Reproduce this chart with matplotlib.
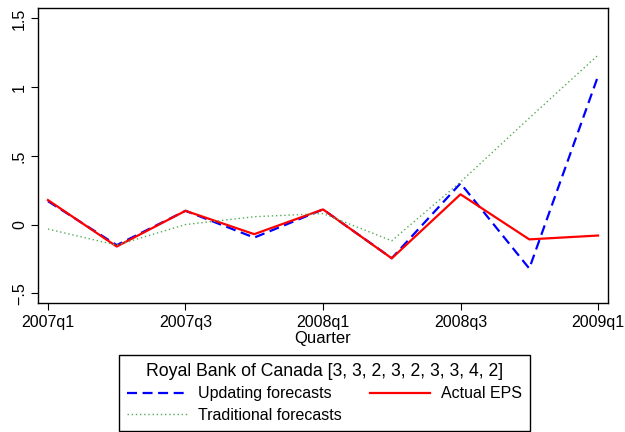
import numpy as np
import matplotlib
matplotlib.use('Agg')
import matplotlib.pyplot as plt

plt.rcParams['font.family'] = ['Liberation Sans', 'DejaVu Sans']

quarters = ['2007q1', '2007q2', '2007q3', '2007q4', '2008q1',
            '2008q2', '2008q3', '2008q4', '2009q1']
updating = [0.17, -0.15, 0.10, -0.095, 0.11, -0.245, 0.30, -0.32, 1.08]
actual = [0.178, -0.16, 0.10, -0.07, 0.11, -0.246, 0.22, -0.108, -0.08]
traditional = [-0.033, -0.15, 0.0, 0.057, 0.08, -0.118, 0.31, 0.775, 1.233]

yticks = [-0.5, 0, 0.5, 1, 1.5]
ytick_labels = ['\u2212.5', '0', '.5', '1', '1.5']
title = 'Royal Bank of Canada [3, 3, 2, 3, 2, 3, 3, 4, 2]'

fig = plt.figure(figsize=(6.25, 4.32), dpi=100)
ax = fig.add_axes([38/625, 1-303/432, 570/625, 295/432])

x = np.arange(len(quarters))
l_upd, = ax.plot(x, updating, color='#0000ff', lw=1.6, ls=(0, (4.5, 2.5)))
l_act, = ax.plot(x, actual, color='#ff0000', lw=1.6)
l_tra, = ax.plot(x, traditional, color='#55aa55', lw=1.0, ls=(0, (1, 2)))

ax.set_xlim(-0.145, 8.145)
ax.set_ylim(-0.571, 1.576)
ax.set_xticks(x[::2])
ax.set_xticklabels(quarters[::2], fontsize=11.5)
ax.set_yticks(yticks)
ax.set_yticklabels(ytick_labels, fontsize=11.5, rotation=90, va='center')
ax.tick_params(direction='out', length=5, width=0.8, pad=3)
ax.tick_params(axis='x', pad=4)
ax.set_xlabel('Quarter', fontsize=12, labelpad=0)
for s in ax.spines.values():
    s.set_linewidth(1.0)

leg = fig.legend([l_upd, l_tra, l_act],
                 ['Updating forecasts', 'Traditional forecasts', 'Actual EPS'],
                 ncol=2, title=title, title_fontsize=12.7, fontsize=11.5,
                 loc='upper left', bbox_to_anchor=(119/625, 1-355/432),
                 borderaxespad=0, fancybox=False, edgecolor='black',
                 framealpha=1, handlelength=3.75, handletextpad=0.69,
                 columnspacing=1.75, labelspacing=0.4, borderpad=0.5)
leg.get_frame().set_linewidth(1.0)

fig.savefig('out.png', dpi=100)
